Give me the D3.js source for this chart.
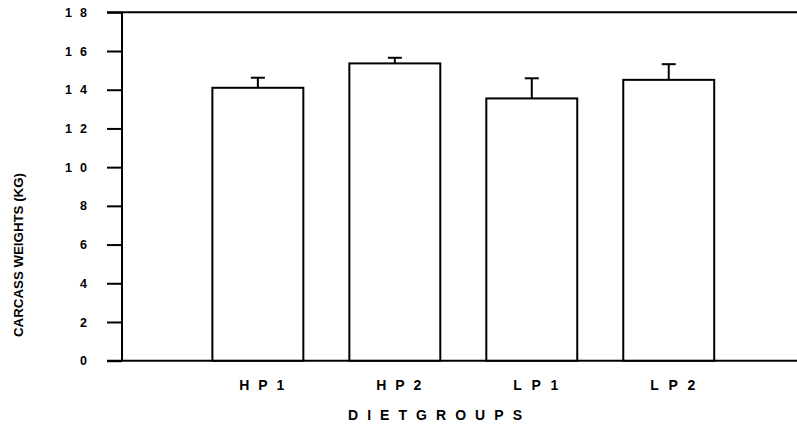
<!DOCTYPE html>
<html>
<head>
<meta charset="utf-8">
<script src="https://cdn.jsdelivr.net/npm/d3@7"></script>
<style>
  html, body { margin: 0; padding: 0; background: #fff; }
  svg { display: block; }
  text { font-family: "Liberation Sans", Arial, Helvetica, sans-serif; font-weight: bold; fill: #000; }
</style>
</head>
<body>
<svg id="chart" width="797" height="425"></svg>
<script>
// Carcass weights per diet group (kg), with standard error
const groups = ["HP1", "HP2", "LP1", "LP2"];
const groupLabels = ["H P 1", "H P 2", "L P 1", "L P 2"];
const meanWeights = [14.10, 15.36, 13.55, 14.51];
const errWeights = [0.52, 0.29, 1.04, 0.81];
const yTicks = [0, 2, 4, 6, 8, 10, 12, 14, 16, 18];
const yTickLabels = ["0", "2", "4", "6", "8", "1 0", "1 2", "1 4", "1 6", "1 8"];

(function () {
  const svg = d3.select("#chart");
  const W = 797;
  const plotLeft = 122, plotTop = 12.3, plotBottom = 360.7;

  const x = d3.scaleBand()
    .domain(groups)
    .range([plotLeft, 804.6])
    .paddingInner(0.336)
    .paddingOuter(0.66);

  const y = d3.scaleLinear().domain([0, 18]).range([plotBottom, plotTop]);

  const ink = "#000";
  const sw = 2;

  // Frame: top and bottom rules, left axis
  svg.append("line").attr("x1", 107).attr("x2", W).attr("y1", y(18)).attr("y2", y(18))
    .attr("stroke", ink).attr("stroke-width", sw);
  svg.append("line").attr("x1", 107).attr("x2", W).attr("y1", y(0)).attr("y2", y(0))
    .attr("stroke", ink).attr("stroke-width", sw);

  const yAxis = d3.axisLeft(y)
    .tickValues(yTicks)
    .tickSize(15)
    .tickFormat(() => "");
  const gy = svg.append("g").attr("transform", `translate(${plotLeft},0)`).call(yAxis);
  gy.select(".domain").attr("stroke", ink).attr("stroke-width", sw)
    .attr("d", `M0,${y(18)}V${y(0)}`);
  gy.selectAll(".tick line").attr("stroke", ink).attr("stroke-width", sw);

  // Y tick labels, digits spread apart
  svg.append("g").selectAll("text")
    .data(yTicks)
    .join("text")
    .attr("x", 87)
    .attr("y", d => y(d) + 4.6)
    .attr("text-anchor", "end")
    .attr("font-size", 12.5)
    .each(function (d, i) {
      const t = d3.select(this).text(yTickLabels[i].replace(/ /g, ""));
      if (d >= 10) t.attr("textLength", 22).attr("lengthAdjust", "spacing");
    });

  // Bars
  svg.append("g").selectAll("rect")
    .data(groups)
    .join("rect")
    .attr("x", d => x(d))
    .attr("y", (d, i) => y(meanWeights[i]))
    .attr("width", x.bandwidth())
    .attr("height", (d, i) => y(0) - y(meanWeights[i]))
    .attr("fill", "#fff")
    .attr("stroke", ink)
    .attr("stroke-width", sw);

  // Error bars (upper only)
  const eb = svg.append("g").selectAll("g")
    .data(groups)
    .join("g")
    .attr("transform", d => `translate(${x(d) + x.bandwidth() / 2},0)`);
  eb.append("line")
    .attr("x1", 0).attr("x2", 0)
    .attr("y1", (d, i) => y(meanWeights[i]))
    .attr("y2", (d, i) => y(meanWeights[i] + errWeights[i]))
    .attr("stroke", ink).attr("stroke-width", sw);
  eb.append("line")
    .attr("x1", -7).attr("x2", 7)
    .attr("y1", (d, i) => y(meanWeights[i] + errWeights[i]))
    .attr("y2", (d, i) => y(meanWeights[i] + errWeights[i]))
    .attr("stroke", ink).attr("stroke-width", sw);

  // Category labels
  svg.append("g").selectAll("text")
    .data(groups)
    .join("text")
    .attr("x", d => x(d) + x.bandwidth() / 2 + 4)
    .attr("y", 390)
    .attr("text-anchor", "middle")
    .attr("font-size", 14)
    .attr("textLength", 45)
    .attr("lengthAdjust", "spacing")
    .text((d, i) => groupLabels[i].replace(/ /g, ""));

  // Axis titles
  svg.append("text")
    .attr("x", 435).attr("y", 420)
    .attr("text-anchor", "middle")
    .attr("font-size", 14)
    .attr("textLength", 174)
    .attr("lengthAdjust", "spacing")
    .text("DIETGROUPS");

  svg.append("text")
    .attr("transform", "translate(23,255) rotate(-90)")
    .attr("text-anchor", "middle")
    .attr("font-size", 13)
    .attr("textLength", 164)
    .attr("lengthAdjust", "spacingAndGlyphs")
    .text("CARCASS WEIGHTS (KG)");
})();
</script>
</body>
</html>
